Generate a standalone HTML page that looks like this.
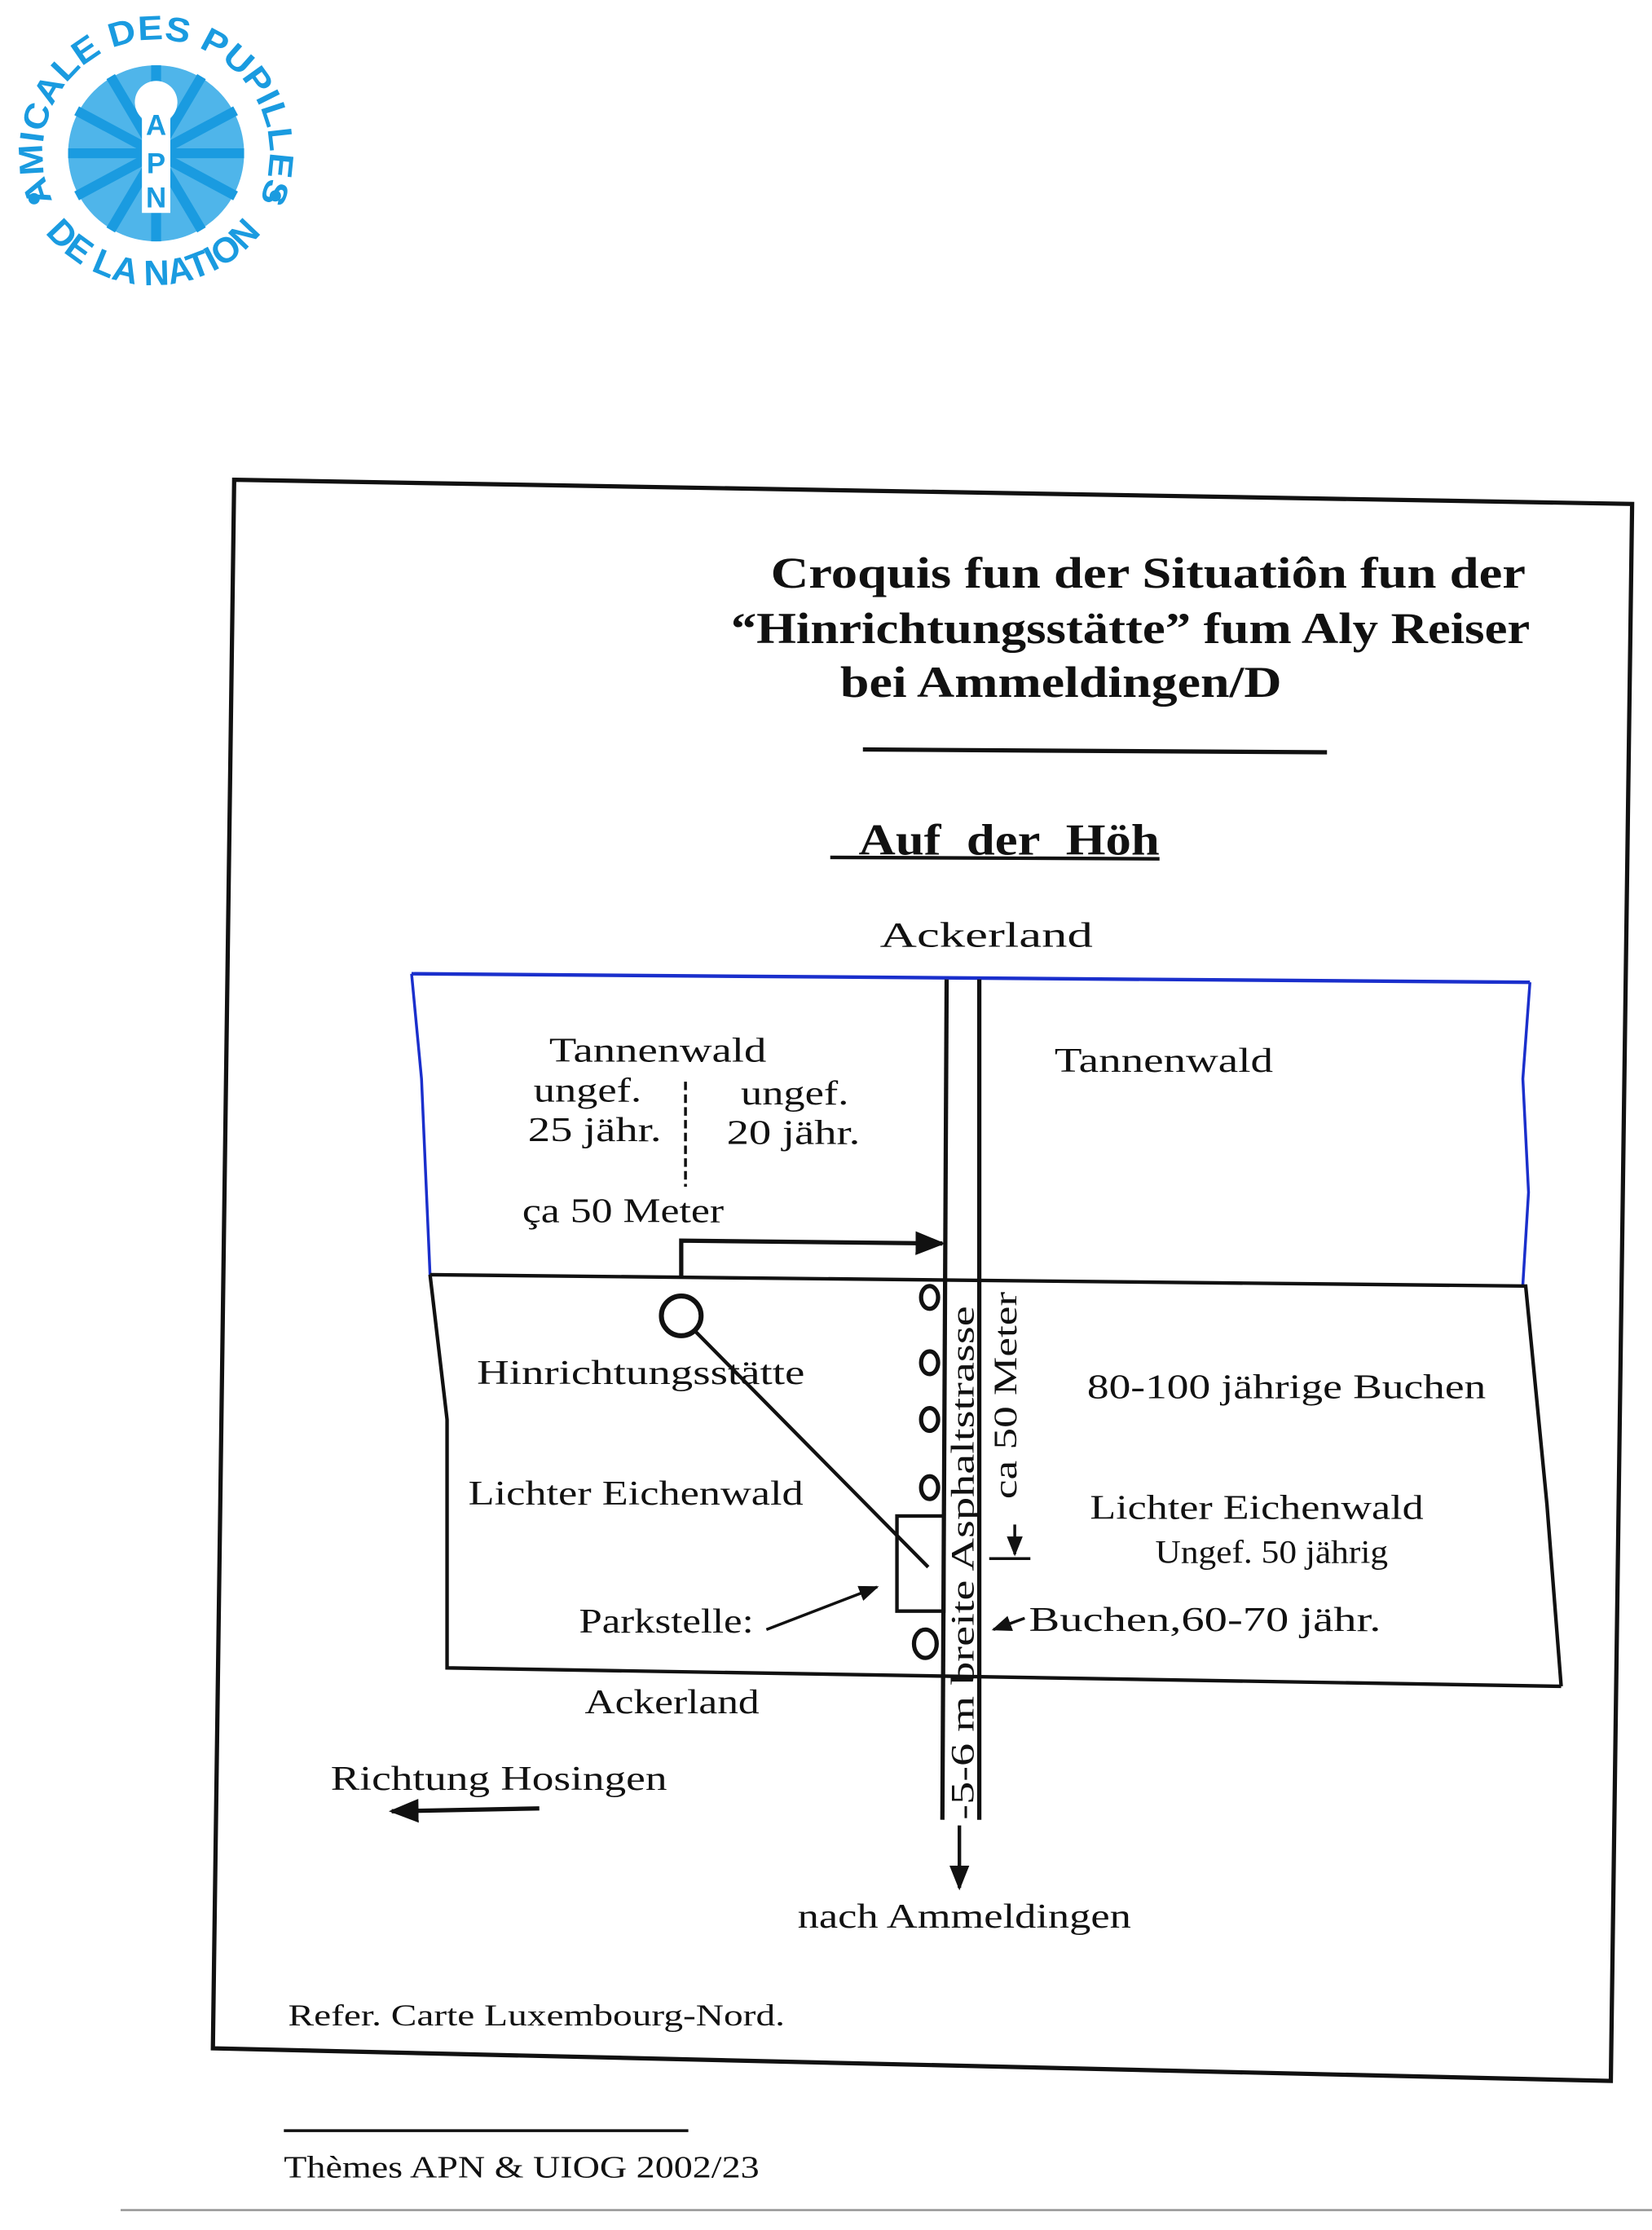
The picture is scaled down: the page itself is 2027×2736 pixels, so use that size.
<!DOCTYPE html>
<html><head><meta charset="utf-8"><style>
html,body{margin:0;padding:0;background:#fff;}
svg{display:block;}
text{font-family:"Liberation Serif",serif;fill:#111;}
</style></head><body>
<svg width="2027" height="2736" viewBox="0 0 1164 1571" preserveAspectRatio="none" xmlns="http://www.w3.org/2000/svg">
<defs>
<path id="arcTop" d="M 54 165 A 80 80 0 1 1 166 165"/>
<path id="arcBot" d="M 18 140 A 97 97 0 0 0 198 140"/>
<marker id="ah" viewBox="0 0 10 10" refX="9" refY="5" markerWidth="7" markerHeight="7" orient="auto"><path d="M0,1 L10,5 L0,9 z" fill="#111"/></marker>
</defs>
<!-- logo -->
<g>
<circle cx="110" cy="108" r="62" fill="#4fb5ea"/>
<g stroke="#1a9be0" stroke-width="7">
<line x1="110" y1="108" x2="110" y2="46"/><line x1="110" y1="108" x2="142" y2="54"/><line x1="110" y1="108" x2="166" y2="78"/><line x1="110" y1="108" x2="172" y2="108"/><line x1="110" y1="108" x2="166" y2="138"/><line x1="110" y1="108" x2="142" y2="162"/><line x1="110" y1="108" x2="110" y2="170"/><line x1="110" y1="108" x2="78" y2="162"/><line x1="110" y1="108" x2="54" y2="138"/><line x1="110" y1="108" x2="48" y2="108"/><line x1="110" y1="108" x2="54" y2="78"/><line x1="110" y1="108" x2="78" y2="54"/>
</g>
<circle cx="110" cy="72" r="15" fill="#fff"/>
<rect x="100" y="78" width="20" height="72" fill="#fff"/>
<text x="110" y="95" text-anchor="middle" style="font-family:'Liberation Sans',sans-serif;font-weight:bold;font-size:20px;fill:#1a9be0">A</text>
<text x="110" y="122" text-anchor="middle" style="font-family:'Liberation Sans',sans-serif;font-weight:bold;font-size:20px;fill:#1a9be0">P</text>
<text x="110" y="146" text-anchor="middle" style="font-family:'Liberation Sans',sans-serif;font-weight:bold;font-size:20px;fill:#1a9be0">N</text>
<text style="font-family:'Liberation Sans',sans-serif;font-weight:bold;font-size:24px;fill:#1a9be0"><textPath href="#arcTop" startOffset="50%" text-anchor="middle" textLength="320" lengthAdjust="spacingAndGlyphs">AMICALE DES PUPILLES</textPath></text>
<text style="font-family:'Liberation Sans',sans-serif;font-weight:bold;font-size:25px;fill:#1a9be0"><textPath href="#arcBot" startOffset="50%" text-anchor="middle">DE LA NATION</textPath></text>
<circle cx="24" cy="140" r="4" fill="#1a9be0"/><circle cx="194" cy="138" r="4" fill="#1a9be0"/>
</g>
<!-- frame -->
<polygon points="165,338 1150,355 1135,1466 150,1443" fill="none" stroke="#111" stroke-width="3"/>
<!-- title -->
<g style="font-weight:bold;font-size:31px">
<text x="543" y="414" textLength="532" lengthAdjust="spacingAndGlyphs">Croquis fun der Situatiôn fun der</text>
<text x="515" y="453" textLength="563" lengthAdjust="spacingAndGlyphs">“Hinrichtungsstätte” fum Aly Reiser</text>
<text x="592" y="491" textLength="311" lengthAdjust="spacingAndGlyphs">bei Ammeldingen/D</text>
<text x="605" y="602" textLength="212" lengthAdjust="spacingAndGlyphs">Auf&#160;&#160;der&#160;&#160;Höh</text>
</g>
<line x1="608" y1="528" x2="935" y2="530" stroke="#111" stroke-width="3"/>
<line x1="585" y1="604" x2="817" y2="605" stroke="#111" stroke-width="2.5"/>
<text x="620" y="667" textLength="150" lengthAdjust="spacingAndGlyphs" style="font-size:25px">Ackerland</text>
<!-- blue box -->
<polyline points="290,686 1078,692" fill="none" stroke="#1a2fcc" stroke-width="2.5"/>
<polyline points="290,686 297,760 303,898" fill="none" stroke="#1a2fcc" stroke-width="2"/>
<polyline points="1078,692 1073,760 1077,840 1073,905" fill="none" stroke="#1a2fcc" stroke-width="2"/>
<!-- lower box -->
<polyline points="303,898 1075,906 1090,1060 1100,1188" fill="none" stroke="#111" stroke-width="2.5"/>
<polyline points="303,898 315,1000 315,1175 1100,1188" fill="none" stroke="#111" stroke-width="2.5"/>
<!-- road -->
<line x1="667" y1="690" x2="664" y2="1282" stroke="#111" stroke-width="3"/>
<line x1="690" y1="690" x2="690" y2="1282" stroke="#111" stroke-width="3"/>
<g style="font-size:24px">
<text x="387" y="748" textLength="153" lengthAdjust="spacingAndGlyphs">Tannenwald</text>
<text x="376" y="776" textLength="76" lengthAdjust="spacingAndGlyphs">ungef.</text>
<text x="522" y="778" textLength="76" lengthAdjust="spacingAndGlyphs">ungef.</text>
<text x="372" y="804" textLength="94" lengthAdjust="spacingAndGlyphs">25 jähr.</text>
<text x="512" y="806" textLength="94" lengthAdjust="spacingAndGlyphs">20 jähr.</text>
<text x="743" y="755" textLength="154" lengthAdjust="spacingAndGlyphs">Tannenwald</text>
<text x="368" y="861" textLength="142" lengthAdjust="spacingAndGlyphs">ça 50 Meter</text>
<text x="336" y="975" textLength="231" lengthAdjust="spacingAndGlyphs">Hinrichtungsstätte</text>
<text x="330" y="1060" textLength="236" lengthAdjust="spacingAndGlyphs">Lichter Eichenwald</text>
<text x="766" y="985" textLength="281" lengthAdjust="spacingAndGlyphs">80-100 jährige Buchen</text>
<text x="768" y="1070" textLength="235" lengthAdjust="spacingAndGlyphs">Lichter Eichenwald</text>
<text x="814" y="1101" textLength="164" lengthAdjust="spacingAndGlyphs" style="font-size:23px">Ungef. 50 jährig</text>
<text x="408" y="1150" textLength="123" lengthAdjust="spacingAndGlyphs">Parkstelle:</text>
<text x="725" y="1149" textLength="248" lengthAdjust="spacingAndGlyphs">Buchen,60-70 jähr.</text>
<text x="412" y="1207" textLength="123" lengthAdjust="spacingAndGlyphs">Ackerland</text>
<text x="233" y="1261" textLength="237" lengthAdjust="spacingAndGlyphs">Richtung Hosingen</text>
<text x="562" y="1358" textLength="235" lengthAdjust="spacingAndGlyphs">nach Ammeldingen</text>
<text x="203" y="1427" textLength="350" lengthAdjust="spacingAndGlyphs" style="font-size:21px">Refer. Carte Luxembourg-Nord.</text>
<text x="200" y="1534" textLength="335" lengthAdjust="spacingAndGlyphs" style="font-size:22px">Thèmes APN &amp; UIOG 2002/23</text>
</g>
<text transform="translate(686,1282) rotate(-90)" textLength="362" lengthAdjust="spacingAndGlyphs" style="font-size:23px">-5-6 m breite Asphaltstrasse</text>
<text transform="translate(716,1056) rotate(-90)" textLength="146" lengthAdjust="spacingAndGlyphs" style="font-size:23px">ca 50 Meter</text>
<!-- lines and arrows -->
<line x1="483" y1="762" x2="483" y2="836" stroke="#111" stroke-width="2" stroke-dasharray="6,3"/>
<polyline points="480,900 480,874 664,876" fill="none" stroke="#111" stroke-width="3" marker-end="url(#ah)"/>
<circle cx="480" cy="927" r="14" fill="none" stroke="#111" stroke-width="3.5"/>
<line x1="490" y1="938" x2="654" y2="1104" stroke="#111" stroke-width="2.5"/>
<g fill="none" stroke="#111" stroke-width="3">
<ellipse cx="655" cy="914" rx="6" ry="8"/><ellipse cx="655" cy="960" rx="6" ry="8"/><ellipse cx="655" cy="1000" rx="6" ry="8"/><ellipse cx="655" cy="1048" rx="6" ry="8"/><ellipse cx="652" cy="1158" rx="8" ry="10"/>
</g>
<rect x="632" y="1068" width="33" height="67" fill="none" stroke="#111" stroke-width="2.5"/>
<line x1="540" y1="1148" x2="618" y2="1118" stroke="#111" stroke-width="2" marker-end="url(#ah)"/>
<line x1="722" y1="1140" x2="700" y2="1148" stroke="#111" stroke-width="2" marker-end="url(#ah)"/>
<line x1="715" y1="1074" x2="715" y2="1095" stroke="#111" stroke-width="2" marker-end="url(#ah)"/>
<line x1="697" y1="1098" x2="726" y2="1098" stroke="#111" stroke-width="2"/>
<line x1="676" y1="1286" x2="676" y2="1330" stroke="#111" stroke-width="2.5" marker-end="url(#ah)"/>
<line x1="380" y1="1274" x2="276" y2="1276" stroke="#111" stroke-width="3" marker-end="url(#ah)"/>
<line x1="200" y1="1501" x2="485" y2="1501" stroke="#111" stroke-width="2"/>
<line x1="85" y1="1557" x2="1164" y2="1557" stroke="#999" stroke-width="1.5"/>
</svg>
</body></html>
